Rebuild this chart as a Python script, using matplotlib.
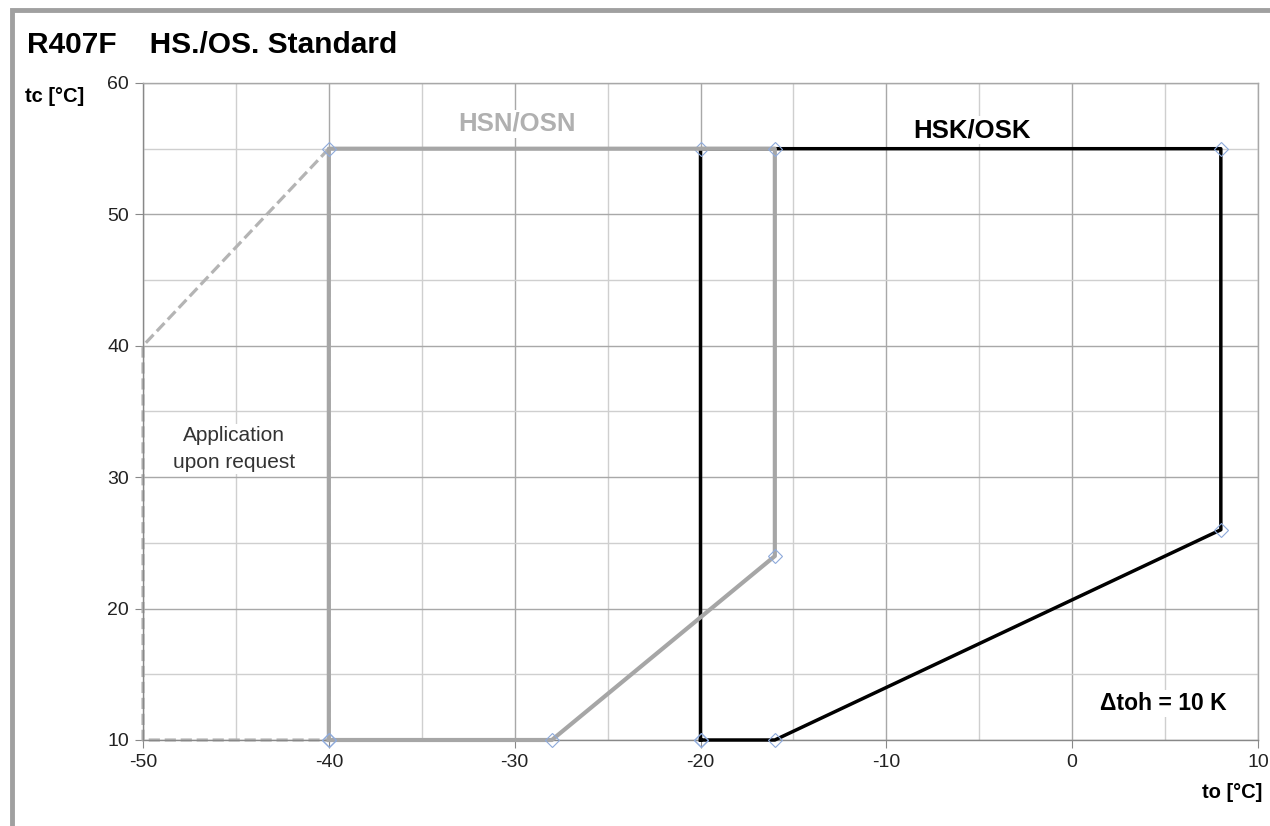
import numpy as np
import matplotlib.pyplot as plt
from matplotlib.patches import Rectangle

plt.rcParams['font.family'] = ['Liberation Sans', 'DejaVu Sans']
plt.rcParams['axes.unicode_minus'] = False

# application limits (to = evaporating temp, tc = condensing temp)
hsn_to = [-40, -40, -16, -16, -28, -40]
hsn_tc = [10, 55, 55, 24, 10, 10]

hsk_to = [-20, -20, 8, 8, -16, -20]
hsk_tc = [10, 55, 55, 26, 10, 10]

req_to = [-40, -50, -50, -40, -40]
req_tc = [55, 40, 10, 10, 55]

x_ticks = [-50, -40, -30, -20, -10, 0, 10]
y_ticks = [10, 20, 30, 40, 50, 60]

fig = plt.figure(figsize=(12.7, 8.26), dpi=100)
ax = fig.add_axes([143/1270, 1-740/826, 1115/1270, 657/826])

# outer chart frame
fig.patches.append(Rectangle((12/1270, -0.05), 1.1, 1.05 - 10/826, transform=fig.transFigure,
                             fill=False, edgecolor='#a0a0a0', linewidth=3.5))

ax.set_xlim(-50, 10)
ax.set_ylim(10, 60)
ax.set_xticks(x_ticks)
ax.set_yticks(y_ticks)
ax.set_xticks(np.arange(-45, 10, 10), minor=True)
ax.set_yticks(np.arange(15, 60, 10), minor=True)
ax.grid(which='major', color='#a8a8a8', linewidth=1.0)
ax.grid(which='minor', color='#cfcfcf', linewidth=1.0)
ax.set_axisbelow(True)
ax.tick_params(which='major', direction='out', length=6, color='#888888',
               labelsize=14, labelcolor='#222222', pad=4)
ax.tick_params(which='minor', length=0)
for s in ['top', 'right']:
    ax.spines[s].set_color('#a8a8a8')
for s in ['left', 'bottom']:
    ax.spines[s].set_color('#888888')
for s in ax.spines.values():
    s.set_linewidth(1.0)

ax.plot(req_to, req_tc, color='#b4b4b4', linewidth=2.3, linestyle=(0, (3.5, 1.5)),
        clip_on=False, zorder=2)
ax.plot(hsk_to, hsk_tc, color='black', linewidth=2.5, clip_on=False, zorder=3,
        marker='D', markersize=7, markerfacecolor='none', markeredgecolor='#8eaadb',
        markeredgewidth=0.8)
ax.plot(hsn_to, hsn_tc, color='#a6a6a6', linewidth=3.0, clip_on=False, zorder=4,
        marker='D', markersize=7, markerfacecolor='none', markeredgecolor='#8eaadb',
        markeredgewidth=0.8)

box = dict(facecolor='white', edgecolor='none', pad=1.5)
ax.text(-29.9, 56.9, 'HSN/OSN', color='#b0b0b0', fontsize=18.5, fontweight='bold',
        ha='center', va='center', bbox=box)
ax.text(-5.4, 56.4, 'HSK/OSK', color='black', fontsize=18.5, fontweight='bold',
        ha='center', va='center', bbox=box)
ax.text(-45.1, 32.15, 'Application\nupon request', color='#333333', fontsize=15,
        ha='center', va='center', linespacing=1.55, bbox=box)
ax.text(4.9, 12.8, '\u0394toh = 10 K', color='black', fontsize=16.5, fontweight='bold',
        ha='center', va='center', bbox=box)

fig.text(27/1270, 1-45/826, 'R407F    HS./OS. Standard', fontsize=21.5, fontweight='bold',
         ha='left', va='center')
fig.text(25/1270, 1-96/826, 'tc [°C]', fontsize=14.5, fontweight='bold',
         ha='left', va='center')
fig.text(1262/1270, 1-793/826, 'to [°C]', fontsize=14.5, fontweight='bold',
         ha='right', va='center')

fig.savefig('out.png', dpi=100)
